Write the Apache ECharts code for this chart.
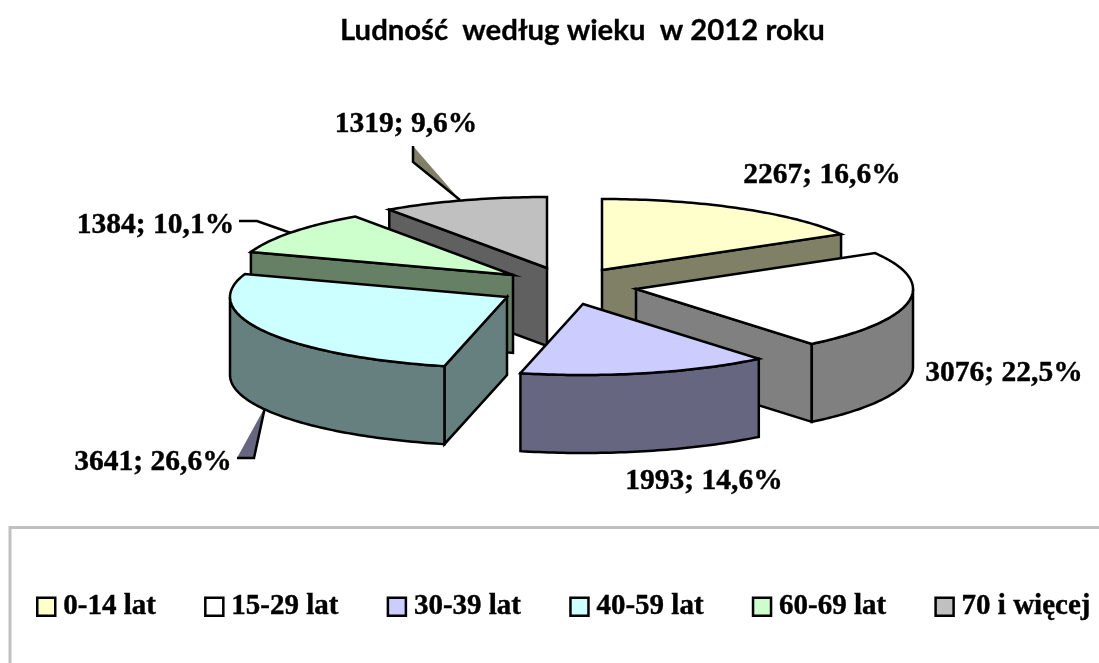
<!DOCTYPE html>
<html><head><meta charset="utf-8">
<style>html,body{margin:0;padding:0;background:#fff}#c{width:1099px;height:663px}</style>
<script src="https://cdn.jsdelivr.net/npm/echarts@6/dist/echarts.min.js"></script>
</head><body><div id="c"></div>
<script>
const chartTitle = 'Ludność  według wieku  w 2012 roku';
const categories = ['0-14 lat','15-29 lat','30-39 lat','40-59 lat','60-69 lat','70 i więcej'];
const values = [2267,3076,1993,3641,1384,1319];
const percentLabels = ['16,6%','22,5%','14,6%','26,6%','10,1%','9,6%'];
const topColors = ['#FFFFCC','#FFFFFF','#CCCCFF','#CCFFFF','#CCFFCC','#C0C0C0'];
const sideColors = ['#808066','#808080','#666680','#668080','#668066','#606060'];

// Layout of the exploded tilted pie
const RX = 277, RY = 71, DEPTH = 78;
const apexes = [[602,270],[636,289],[583,304],[507,297],[513,275],[547,268]];
const paintOrder = [1,4,6,5,3,2];
const labelCentres = [[822,175],[1004,373],[704,481],[153,462],[155.5,225],[406,124]];
const leaders = [
  null, null, null,
  {fill:'#666680', pts:[[237,458],[254,458],[265,407]], stroke:[[237,458],[254,458],[265,407]]},
  {fill:null, pts:[[239,221],[257,221],[291,233]], stroke:[[239,221],[257,221],[291,233]]},
  {fill:'#808066', pts:[[413,146],[413,162],[460,200]], stroke:[[413,146],[413,162],[460,200]]}
];

const total = values.reduce((a,b)=>a+b,0);
const starts = []; { let s=0; values.forEach(v=>{starts.push(s); s+=v/total*360;}); }

function rim(c,deg){const t=deg*Math.PI/180;return [c[0]+RX*Math.sin(t),c[1]-RY*Math.cos(t)];}
function arc(c,a,b){const p=[];const n=Math.max(2,Math.ceil(Math.abs(b-a)));for(let i=0;i<=n;i++)p.push(rim(c,a+(b-a)*i/n));return p;}
const down=p=>[p[0],p[1]+DEPTH];

function makeRender(i){
  return function(params,api){
    const v=api.value(0);
    const a=starts[i], b=a+v/total*360, c=apexes[i];
    const st={lineWidth:2.5,stroke:'#000',lineJoin:'miter'};
    const kids=[];
    const poly=(pts,fill)=>kids.push({type:'polygon',shape:{points:pts},style:{...st,fill}});
    const L=leaders[i];
    if(L){
      if(L.fill) kids.push({type:'polygon',shape:{points:L.pts},style:{fill:L.fill}});
      kids.push({type:'polyline',shape:{points:L.stroke},style:{lineWidth:2.5,stroke:'#000',fill:null}});
    }
    // radial faces that look at the viewer
    if(Math.sin(a*Math.PI/180)<-1e-6){const p=rim(c,a);poly([p,c,down(c),down(p)],sideColors[i]);}
    if(Math.sin(b*Math.PI/180)>1e-6){const p=rim(c,b);poly([c,p,down(p),down(c)],sideColors[i]);}
    // front part of the outer wall
    const fa=Math.max(a,90), fb=Math.min(b,270);
    if(fb>fa){const r=arc(c,fa,fb);poly(r.concat(r.map(down).reverse()),sideColors[i]);}
    // top face
    poly([c].concat(arc(c,a,b)),topColors[i]);
    const lc=labelCentres[i];
    kids.push({type:'text',style:{x:lc[0],y:lc[1],text:v+'; '+percentLabels[i],align:'center',verticalAlign:'middle',
      fill:'#000',stroke:'#000',lineWidth:0.4,font:'bold 29.5px "Liberation Serif"'}});
    return {type:'group',children:kids};
  };
}

const series=categories.map((name,i)=>({
  type:'custom',name,coordinateSystem:'none',z:paintOrder[i]+1,silent:true,
  itemStyle:{color:topColors[i]},
  renderItem:makeRender(i),
  data:[[values[i]]]
}));

const chart=echarts.init(document.getElementById('c'),null,{renderer:'canvas'});
chart.setOption({
  animation:false,
  backgroundColor:'#fff',
  title:{text:chartTitle,left:335,top:11,textStyle:{fontFamily:'Lato',fontWeight:'bold',fontSize:29.3,color:'#000',textBorderColor:'#000',textBorderWidth:0.3}},
  legend:{left:36,top:592,padding:0,width:1063,itemWidth:18,itemHeight:18,itemGap:48,icon:'rect',selectedMode:false,
    data:categories,
    itemStyle:{borderColor:'#000',borderWidth:2.5},
    textStyle:{fontFamily:'Liberation Serif',fontWeight:'bold',fontSize:29,color:'#000',padding:[0,0,0,3],textBorderColor:'#000',textBorderWidth:0.4}},
  graphic:[{type:'polyline',silent:true,z:0,shape:{points:[[1099,527.5],[10,527.5],[10,663]]},style:{stroke:'#C0C0C0',lineWidth:3,fill:null}}],
  series
});
</script></body></html>
